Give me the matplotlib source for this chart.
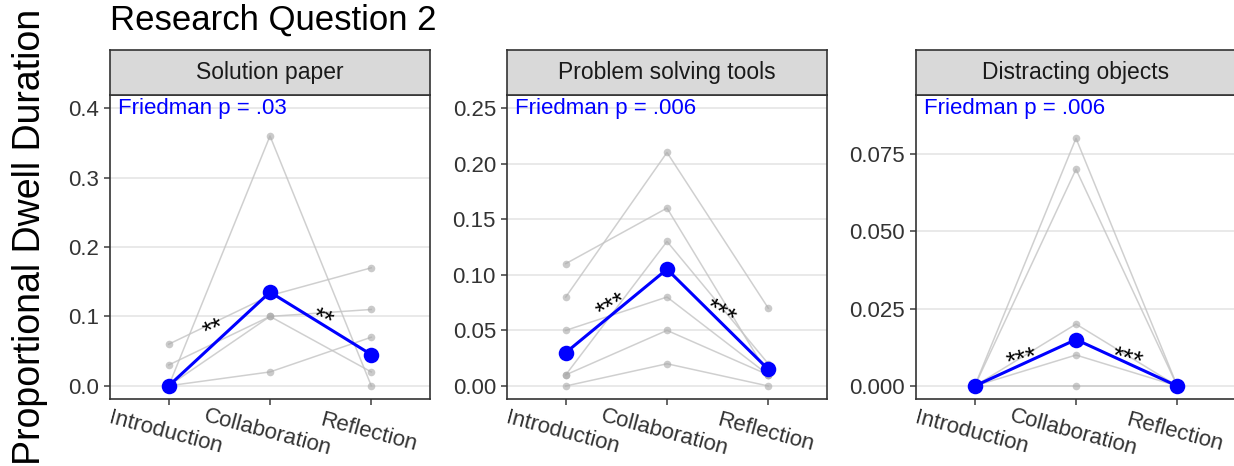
import numpy as np
import matplotlib.pyplot as plt

plt.rcParams['font.family'] = ['Liberation Sans', 'DejaVu Sans']

phases = ["Introduction", "Collaboration", "Reflection"]

# individual participants (gray lines), one list per participant
solution_paper = [
    [0.00, 0.36, 0.00],
    [0.06, 0.13, 0.17],
    [0.03, 0.10, 0.11],
    [0.00, 0.02, 0.07],
    [0.00, 0.10, 0.02],
]
tools = [
    [0.11, 0.16, 0.01],
    [0.08, 0.21, 0.07],
    [0.01, 0.13, 0.02],
    [0.05, 0.08, 0.01],
    [0.01, 0.05, 0.01],
    [0.00, 0.02, 0.00],
]
distracting = [
    [0.00, 0.08, 0.00],
    [0.00, 0.07, 0.00],
    [0.00, 0.02, 0.00],
    [0.00, 0.01, 0.00],
    [0.00, 0.00, 0.00],
]

# group medians (blue)
median_solution = [0.0, 0.135, 0.045]
median_tools = [0.03, 0.105, 0.015]
median_distract = [0.0, 0.015, 0.0]

panel_titles = ["Solution paper", "Problem solving tools", "Distracting objects"]
friedman = ["Friedman p = .03", "Friedman p = .006", "Friedman p = .006"]
stars = [["**", "**"], ["***", "***"], ["***", "***"]]
star_pos = [[(0.45, 0.080), (1.52, 0.095)],
            [(0.46, 0.071), (1.52, 0.065)],
            [(0.47, 0.0085), (1.51, 0.0085)]]
star_rot = [[22, -22], [30, -30], [14, -14]]

yticks = [[0.0, 0.1, 0.2, 0.3, 0.4],
          [0.0, 0.05, 0.10, 0.15, 0.20, 0.25],
          [0.0, 0.025, 0.050, 0.075]]
ytick_labels = [["0.0", "0.1", "0.2", "0.3", "0.4"],
                ["0.00", "0.05", "0.10", "0.15", "0.20", "0.25"],
                ["0.000", "0.025", "0.050", "0.075"]]
ylims = [(-0.019, 0.419), (-0.0117, 0.2617), (-0.0042, 0.094)]

individuals = [solution_paper, tools, distracting]
medians = [median_solution, median_tools, median_distract]

W, H = 1234, 466
fig = plt.figure(figsize=(W / 100, H / 100), dpi=100)

lefts = [110, 507, 916]
width = 320
x = np.arange(len(phases))

for i in range(3):
    l = lefts[i] / W
    ax = fig.add_axes([l, 1 - 399 / H, width / W, 304 / H])
    for row in individuals[i]:
        ax.plot(x, row, color="#c4c4c4", lw=1.1, alpha=0.8, zorder=2)
        ax.scatter(x, row, s=30, color="#a8a8a8", alpha=0.6, zorder=3, linewidths=0)
    ax.plot(x, medians[i], color="#0000ff", lw=2.2, zorder=4)
    ax.scatter(x, medians[i], s=125, color="#0000ff", zorder=5, linewidths=0)

    ax.set_xlim(-0.58, 2.58)
    ax.set_ylim(*ylims[i])
    ax.set_yticks(yticks[i])
    ax.set_yticklabels(ytick_labels[i])
    ax.set_xticks(x)
    ax.set_xticklabels(phases, rotation=-15, ha="center", va="top",
                       rotation_mode="anchor")
    ax.tick_params(axis="both", labelsize=16, colors="#4d4d4d",
                   length=4, width=1.2, labelcolor="#333333")
    ax.tick_params(axis="x", pad=13)
    ax.tick_params(axis="y", pad=4)
    ax.grid(axis="y", color="#e3e3e3", lw=1.1)
    ax.set_axisbelow(True)
    for sp in ax.spines.values():
        sp.set_color("#333333")
        sp.set_linewidth(1.2)

    ax.text(0.025, 0.955, friedman[i], transform=ax.transAxes, color="#0000ff",
            fontsize=16, ha="left", va="center")
    for (sx, sy), s, r in zip(star_pos[i], stars[i], star_rot[i]):
        ax.text(sx, sy, s, fontsize=19, ha="center", va="center",
                rotation=r, color="black", zorder=6)

    # strip (facet label)
    sax = fig.add_axes([l, 1 - 95 / H, width / W, 45 / H])
    sax.set_facecolor("#d9d9d9")
    sax.set_xticks([])
    sax.set_yticks([])
    for sp in sax.spines.values():
        sp.set_color("#333333")
        sp.set_linewidth(1.2)
    sax.text(0.5, 0.5, panel_titles[i], transform=sax.transAxes, fontsize=16.5,
             ha="center", va="center", color="#1a1a1a")

fig.text(110 / W, 1 - 20 / H, "Research Question 2", fontsize=25,
         ha="left", va="center")
fig.text(30 / W, 1 - 237 / H, "Proportional Dwell Duration", fontsize=27,
         rotation=90, ha="center", va="center")

fig.savefig("out.png", dpi=100)
